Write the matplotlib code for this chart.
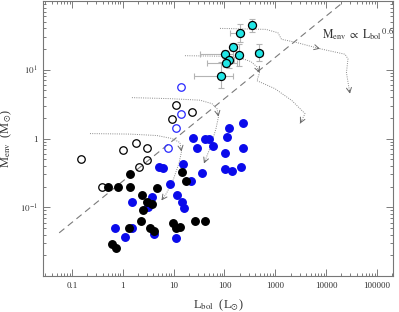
import matplotlib
matplotlib.use("Agg")
import matplotlib.pyplot as plt
import numpy as np

plt.rcParams["font.family"] = ["Liberation Serif", "DejaVu Serif"]
plt.rcParams["mathtext.fontset"] = "stix"

# sources: bolometric luminosity (Lsun) and envelope mass (Msun)
open_black_L = [0.15, 0.39, 1.0, 1.8, 2.1, 3.0, 3.0, 9.3, 11, 23]
open_black_M = [0.50, 0.195, 0.69, 0.87, 0.39, 0.48, 0.74, 1.9, 3.1, 2.4]

open_blue_L = [14, 14, 11, 7.7]
open_blue_M = [5.7, 2.3, 1.4, 0.74]

black_L = [0.51, 0.80, 1.4, 1.4, 4.7, 2.4, 3.0, 3.7, 2.5, 2.3, 1.3, 3.4, 4.1,
           0.61, 0.73, 14.6, 17.5, 9.7, 11, 13.3, 26, 41]
black_M = [0.195, 0.195, 0.30, 0.195, 0.19, 0.15, 0.118, 0.11, 0.091, 0.063,
           0.050, 0.050, 0.046, 0.029, 0.026, 0.33, 0.24, 0.059, 0.050, 0.051,
           0.063, 0.063]

blue_L = [0.70, 1.1, 1.5, 1.5, 3.7, 3.1, 4.1, 5.2, 6.2, 8.5, 11.6, 14.6, 16, 11,
          15.3, 22, 36, 24, 29, 41, 50, 59, 123, 231, 112, 102, 102, 140, 211, 231]
blue_M = [0.050, 0.037, 0.050, 0.118, 0.14, 0.10, 0.041, 0.38, 0.37, 0.22, 0.15,
          0.118, 0.097, 0.036, 0.43, 0.24, 0.32, 1.03, 0.74, 0.97, 1.0, 0.77,
          1.44, 1.7, 1.07, 0.61, 0.355, 0.34, 0.38, 0.74]

# cyan sources with errors (dex)
cyan_L = [343, 199, 145, 102, 196, 484, 123, 107, 85]
cyan_M = [44, 34, 21.5, 16.9, 16.5, 17.8, 13.8, 12.5, 8.1]
cyan_xlo = [0.03, 0.19, 0.06, 0.49, 0.06, 0.08, 0.10, 0.37, 0.53]
cyan_xhi = [0.03, 0.07, 0.06, 0.16, 0.06, 0.08, 0.10, 0.21, 0.24]
cyan_ylo = [0.10, 0.13, 0.06, 0.06, 0.16, 0.12, 0.11, 0.06, 0.17]
cyan_yhi = [0.10, 0.13, 0.06, 0.06, 0.16, 0.12, 0.06, 0.06, 0.20]

# evolutionary tracks and arrow positions (indices)
track1_L = [0.226, 1.38, 4.70, 9.28, 13.3, 14.3, 12.7, 9.7, 7.23, 5.77]
track1_M = [1.18, 1.16, 1.105, 1.0, 0.875, 0.648, 0.434, 0.246, 0.160, 0.126]
track1_arrows = [5, 9]
track2_L = [1.51, 8.47, 33.0, 56.8, 71.2, 76.3, 68.1, 54.3, 39.5]
track2_M = [3.93, 3.80, 3.61, 3.21, 2.72, 2.08, 1.40, 0.792, 0.434]
track2_arrows = [5, 8]
track3_L = [16.7, 93.5, 202, 333, 436, 489, 436, 986, 2130, 3840, 3060]
track3_M = [16.0, 15.7, 14.9, 13.1, 11.0, 9.05, 6.93, 5.30, 3.55, 2.30, 1.65]
track3_arrows = [5, 10]
track4_L = [81.6, 656, 1130, 1324, 2550, 7570, 23500, 26900, 25100, 29400]
track4_M = [39.9, 38.6, 34.4, 27.7, 25.0, 20.2, 16.8, 14.4, 9.05, 4.49]
track4_arrows = [5, 9]

slope = 0.6
norm = 0.24
line_L = [0.056, 3e4]

xtick_vals = [0.1, 1, 10, 100, 1000, 10000, 100000]
xtick_labels = ["0.1", "1", "10", "100", "1000", "10000", "100000"]
ytick_vals = [0.1, 1, 10]
ytick_labels = [r"$10^{-1}$", "1", r"$10^{1}$"]

fig = plt.figure(figsize=(3.99, 3.12), dpi=100)
ax = fig.add_axes([0.108, 0.115, 0.877, 0.882])
ax.set_xscale("log")
ax.set_yscale("log")
ax.set_xlim(0.027, 2.07e5)
ax.set_ylim(0.01, 100)

track_col = "#8a8a8a"
for tl, tm, arr in [(track1_L, track1_M, track1_arrows), (track2_L, track2_M, track2_arrows),
                    (track3_L, track3_M, track3_arrows), (track4_L, track4_M, track4_arrows)]:
    ax.plot(tl, tm, ls=(0, (1, 1.3)), color=track_col, lw=0.7, zorder=1)
    lx, ly = np.log10(tl), np.log10(tm)
    for i in arr:
        d = np.array([lx[i] - lx[i - 1], ly[i] - ly[i - 1]])
        d = d / np.hypot(*d)
        start = (10 ** (lx[i] - 0.05 * d[0]), 10 ** (ly[i] - 0.05 * d[1]))
        ax.annotate("", xy=(tl[i], tm[i]), xytext=start,
                    arrowprops=dict(arrowstyle="->,head_length=0.35,head_width=0.18",
                                    color="#6a6a6a", lw=0.7, shrinkA=0, shrinkB=0),
                    zorder=2)

ll = np.array(line_L)
ax.plot(ll, norm * ll ** slope, ls=(0, (6, 4)), color="#7a7a7a", lw=0.8, zorder=1)

ms = 5.4
ax.plot(open_black_L, open_black_M, "o", ms=ms, mfc="none", mec="black", mew=0.9, zorder=3)
ax.plot(open_blue_L, open_blue_M, "o", ms=ms, mfc="none", mec="#2828ff", mew=0.9, zorder=3)
ax.plot(blue_L, blue_M, "o", ms=ms, color="#0a0aeb", mec="#0a0aeb", zorder=3)
ax.plot(black_L, black_M, "o", ms=ms, color="black", zorder=3)

cl, cm = np.array(cyan_L), np.array(cyan_M)
xerr = [cl - cl * 10 ** -np.array(cyan_xlo), cl * 10 ** np.array(cyan_xhi) - cl]
yerr = [cm - cm * 10 ** -np.array(cyan_ylo), cm * 10 ** np.array(cyan_yhi) - cm]
ax.errorbar(cl, cm, xerr=xerr, yerr=yerr, fmt="none", ecolor="#b4b4b4", elinewidth=0.8,
            capsize=2.2, capthick=0.8, zorder=2)
ax.plot(cl, cm, "o", ms=ms + 0.4, mfc="#20e6e6", mec="black", mew=0.9, zorder=4)

ax.text(8300, 29, r"$\mathrm{M_{env}}\ \propto\ \mathrm{L_{bol}}^{\,0.6}$", fontsize=8.5,
        color="#333333", ha="left", va="baseline")

ax.set_xticks(xtick_vals)
ax.set_xticklabels(xtick_labels)
ax.set_yticks(ytick_vals)
ax.set_yticklabels(ytick_labels)
ax.tick_params(which="both", direction="in", top=True, right=True, color="#666666",
               labelcolor="#333333", labelsize=6.5, width=0.6)
ax.tick_params(which="major", length=5, pad=4)
ax.tick_params(which="minor", length=2.5)
for sp in ax.spines.values():
    sp.set_color("#777777")
    sp.set_linewidth(0.8)

ax.set_xlabel(r"L$_{\mathrm{bol}}$  (L$_{\odot}$)", fontsize=9, color="#333333", labelpad=6)
ax.set_ylabel(r"M$_{\mathrm{env}}$  (M$_{\odot}$)", fontsize=9, color="#333333", labelpad=4)

fig.savefig("out.png", dpi=100)
